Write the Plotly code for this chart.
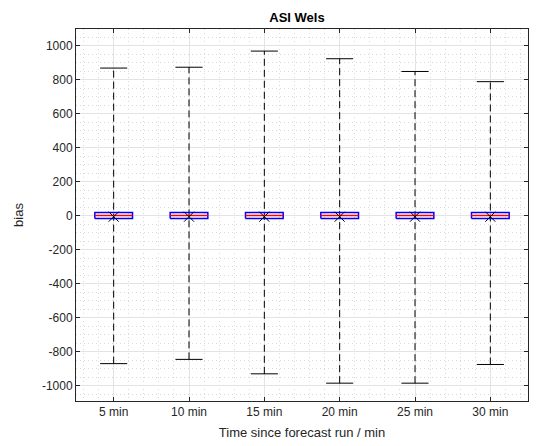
import plotly.graph_objects as go

categories = ['5 min', '10 min', '15 min', '20 min', '25 min', '30 min']
upper_whisker = [870, 875, 970, 925, 850, 790]
lower_whisker = [-870, -845, -930, -985, -985, -875]
q1 = [-15, -15, -15, -15, -15, -15]
q3 = [20, 20, 20, 20, 20, 20]
median = [2, 2, 2, 2, 2, 2]
mean = [-5, -5, -5, -5, -5, -5]
y_ticks = [-1000, -800, -600, -400, -200, 0, 200, 400, 600, 800, 1000]
y_tick_labels = ['-1000', '-800', '-600', '-400', '-200', '0', '200', '400', '600', '800', '1000']

BOX_HALF = 0.25
CAP_HALF = 0.18
FONT = 'Liberation Sans, Arial, sans-serif'

pos = list(range(1, len(categories) + 1))

wx, wy = [], []
for p, lo, hi in zip(pos, lower_whisker, upper_whisker):
    wx += [p, p, None]
    wy += [lo, hi, None]

cx, cy = [], []
for p, lo, hi in zip(pos, lower_whisker, upper_whisker):
    cx += [p - CAP_HALF, p + CAP_HALF, None, p - CAP_HALF, p + CAP_HALF, None]
    cy += [lo, lo, None, hi, hi, None]

bx, by = [], []
for p, a, b in zip(pos, q1, q3):
    bx += [p - BOX_HALF, p + BOX_HALF, p + BOX_HALF, p - BOX_HALF, p - BOX_HALF, None]
    by += [a, a, b, b, a, None]

mx, my = [], []
for p, m in zip(pos, median):
    mx += [p - BOX_HALF, p + BOX_HALF, None]
    my += [m, m, None]

fig = go.Figure()
fig.add_trace(go.Scatter(x=wx, y=wy, mode='lines', line=dict(color='black', width=1, dash='7px,4px'),
                         hoverinfo='skip', showlegend=False))
fig.add_trace(go.Scatter(x=cx, y=cy, mode='lines', line=dict(color='black', width=1),
                         hoverinfo='skip', showlegend=False))
fig.add_trace(go.Scatter(x=bx, y=by, mode='lines', line=dict(color='#0000ff', width=1.5),
                         hoverinfo='skip', showlegend=False))
fig.add_trace(go.Scatter(x=mx, y=my, mode='lines', line=dict(color='#ff0000', width=1.3),
                         hoverinfo='skip', showlegend=False))
fig.add_trace(go.Scatter(x=pos, y=mean, mode='markers',
                         marker=dict(symbol='x-thin', size=10, line=dict(color='black', width=1)),
                         showlegend=False))

axis_common = dict(
    automargin=False,
    showline=True, linecolor='#262626', linewidth=1, mirror='ticks',
    ticks='inside', ticklen=4, tickcolor='#262626',
    showgrid=True, gridcolor='#e3e3e3', gridwidth=1, zeroline=False,
    tickfont=dict(family=FONT, size=12, color='#262626'),
)

minor_common = dict(showgrid=True, griddash='1px,3px', gridcolor='#d9d9d9', gridwidth=1, ticks='')

fig.update_layout(
    template='plotly_white',
    width=541, height=446,
    margin=dict(l=68, r=21, t=21, b=53),
    paper_bgcolor='white', plot_bgcolor='white',
    title=dict(text='<b>ASI Wels</b>', x=0.5 - 5 / 452, xanchor='center', xref='paper',
               y=1 - 9 / 446, yanchor='middle',
               font=dict(family=FONT, size=13, color='black')),
    xaxis=dict(
        range=[0.5, len(categories) + 0.5],
        tickmode='array', tickvals=pos, ticktext=categories,
        title=dict(text='Time since forecast run / min', standoff=9,
                   font=dict(family=FONT, size=13, color='#262626')),
        minor=dict(dtick=0.2, tick0=0, **minor_common),
        **axis_common,
    ),
    yaxis=dict(
        range=[-1090, 1100],
        tickmode='array', tickvals=y_ticks, ticktext=y_tick_labels,
        title=dict(text='bias', standoff=15,
                   font=dict(family=FONT, size=13, color='#262626')),
        minor=dict(dtick=50, tick0=0, **minor_common),
        **axis_common,
    ),
)

fig.write_html('out.html')
